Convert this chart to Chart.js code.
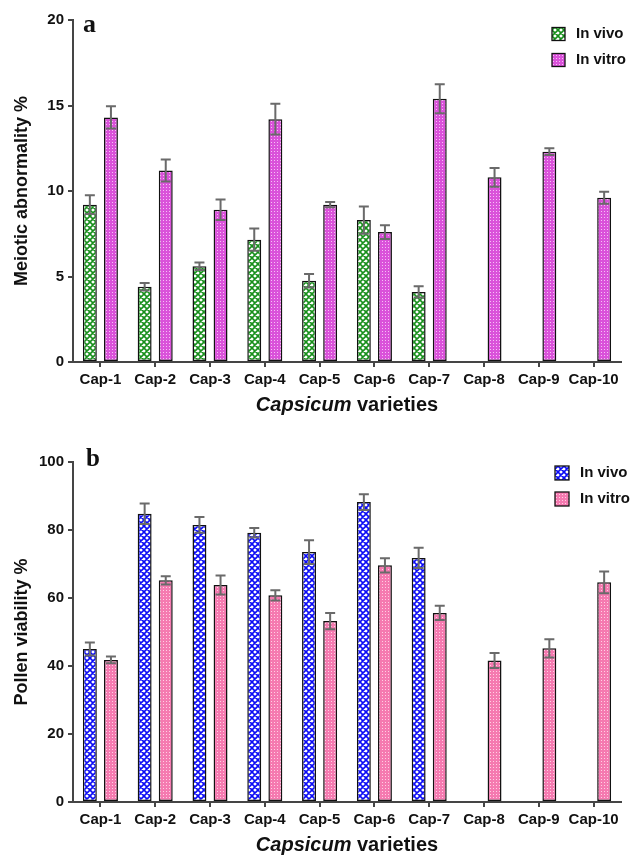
<!DOCTYPE html>
<html>
<head>
<meta charset="utf-8">
<script src="https://cdn.jsdelivr.net/npm/chart.js@4.4.0/dist/chart.umd.min.js"></script>
<style>
  body { margin: 0; background: #fff; }
  canvas { display: block; }
</style>
</head>
<body>
<canvas id="chartA" width="630" height="430"></canvas>
<canvas id="chartB" width="630" height="430"></canvas>
<script>
// data
var varieties = ['Cap-1', 'Cap-2', 'Cap-3', 'Cap-4', 'Cap-5', 'Cap-6', 'Cap-7', 'Cap-8', 'Cap-9', 'Cap-10'];

var meioticVivo = [9.2, 4.4, 5.6, 7.15, 4.75, 8.3, 4.1, null, null, null];
var meioticVivoErr = [0.55, 0.22, 0.22, 0.65, 0.4, 0.8, 0.33, 0, 0, 0];
var meioticVitro = [14.3, 11.2, 8.9, 14.2, 9.2, 7.6, 15.4, 10.8, 12.3, 9.6];
var meioticVitroErr = [0.65, 0.64, 0.6, 0.9, 0.15, 0.4, 0.85, 0.55, 0.2, 0.35];

var pollenVivo = [45, 84.8, 81.5, 79.2, 73.5, 88.2, 71.8, null, null, null];
var pollenVivoErr = [1.9, 3, 2.3, 1.4, 3.5, 2.3, 3, 0, 0, 0];
var pollenVitro = [41.8, 65.2, 63.8, 60.8, 53.2, 69.6, 55.6, 41.6, 45.2, 64.6];
var pollenVitroErr = [1, 1.2, 2.8, 1.5, 2.4, 2.1, 2.1, 2.2, 2.7, 3.2];

var meioticTicks = [0, 5, 10, 15, 20];
var pollenTicks = [0, 20, 40, 60, 80, 100];

var FONT = "'Liberation Sans', Arial, sans-serif";
var INK = '#111';
var AXIS = '#454545';

Chart.defaults.font.family = FONT;
Chart.defaults.color = INK;

// diagonal crosshatch on white, leaves diamond holes
function latticePattern(ink) {
    var n = 6;
    var c = document.createElement('canvas');
    c.width = n; c.height = n;
    var g = c.getContext('2d');
    g.fillStyle = '#fff';
    g.fillRect(0, 0, n, n);
    g.strokeStyle = ink;
    g.lineWidth = 1.6;
    g.beginPath();
    [-n, 0, n].forEach(function (k) {
        g.moveTo(-1, -1 + k); g.lineTo(n + 1, n + 1 + k);
        g.moveTo(-1, n + 1 + k); g.lineTo(n + 1, -1 + k);
    });
    g.stroke();
    return g.createPattern(c, 'repeat');
}

// sparse light dots on a flat ground
function dotPattern(ground, dot) {
    var c = document.createElement('canvas');
    c.width = 3; c.height = 3;
    var g = c.getContext('2d');
    g.fillStyle = ground; g.fillRect(0, 0, 3, 3);
    g.fillStyle = dot; g.fillRect(1, 1, 1, 1);
    return g.createPattern(c, 'repeat');
}

var errorBars = {
    id: 'errorBars',
    afterDatasetsDraw: function (chart) {
        var ctx = chart.ctx;
        var yScale = chart.scales.y;
        ctx.save();
        ctx.strokeStyle = '#6a6a6a';
        ctx.lineWidth = 2;
        chart.data.datasets.forEach(function (ds, d) {
            var meta = chart.getDatasetMeta(d);
            ds.data.forEach(function (v, i) {
                if (v == null) return;
                var e = ds.errors[i];
                var x = meta.data[i].x;
                var top = yScale.getPixelForValue(v + e);
                var bot = yScale.getPixelForValue(v - e);
                ctx.beginPath();
                ctx.moveTo(x, top); ctx.lineTo(x, bot);
                ctx.moveTo(x - 5, top); ctx.lineTo(x + 5, top);
                ctx.moveTo(x - 5, bot); ctx.lineTo(x + 5, bot);
                ctx.stroke();
            });
        });
        ctx.restore();
    }
};

var decorations = {
    id: 'decorations',
    afterDraw: function (chart, args, opts) {
        var ctx = chart.ctx;
        var area = chart.chartArea;
        ctx.save();
        ctx.fillStyle = INK;

        // panel letter
        ctx.font = "bold " + opts.letterSize + "px 'Liberation Serif', 'Times New Roman', serif";
        ctx.textAlign = 'left';
        ctx.textBaseline = 'alphabetic';
        ctx.fillText(opts.letter, opts.letterX, opts.letterY);

        // y title
        ctx.save();
        ctx.translate(22, (area.top + area.bottom) / 2);
        ctx.rotate(-Math.PI / 2);
        ctx.font = 'bold 18px ' + FONT;
        ctx.textAlign = 'center';
        ctx.textBaseline = 'middle';
        ctx.fillText(opts.yTitle, 0, 0);
        ctx.restore();

        // x title, genus in italics
        var cx = (area.left + area.right) / 2;
        var italicFont = 'italic bold 20px ' + FONT;
        var plainFont = 'bold 20px ' + FONT;
        ctx.font = italicFont;
        var w1 = ctx.measureText('Capsicum').width;
        ctx.font = plainFont;
        var w2 = ctx.measureText(' varieties').width;
        var x0 = cx - (w1 + w2) / 2;
        ctx.textAlign = 'left';
        ctx.textBaseline = 'middle';
        ctx.font = italicFont;
        ctx.fillText('Capsicum', x0, opts.xTitleY);
        ctx.font = plainFont;
        ctx.fillText(' varieties', x0 + w1, opts.xTitleY);

        // legend
        ctx.font = 'bold 15px ' + FONT;
        chart.data.datasets.forEach(function (ds, d) {
            var y = opts.legendY + d * 26;
            ctx.fillStyle = ds.backgroundColor;
            ctx.fillRect(opts.legendX, y - opts.box / 2, opts.box, opts.box);
            ctx.strokeStyle = INK;
            ctx.lineWidth = 1.3;
            ctx.strokeRect(opts.legendX, y - opts.box / 2, opts.box, opts.box);
            ctx.fillStyle = INK;
            ctx.fillText(ds.label, opts.legendX + opts.box + 11, y);
        });
        ctx.restore();
    }
};

function draw_panel(EleID, vivo, vivoErr, vitro, vitroErr, yTicks, vivoInk, vitroGround, vitroDot, layout) {
    var ctx = document.getElementById(EleID).getContext('2d');
    var config = {
        type: 'bar',
        data: {
            labels: varieties,
            datasets: [{
                label: 'In vivo',
                data: vivo,
                errors: vivoErr,
                backgroundColor: latticePattern(vivoInk),
                borderColor: INK,
                borderWidth: 1.5,
                borderSkipped: false,
                barPercentage: 0.66,
                categoryPercentage: 0.77
            }, {
                label: 'In vitro',
                data: vitro,
                errors: vitroErr,
                backgroundColor: dotPattern(vitroGround, vitroDot),
                borderColor: INK,
                borderWidth: 1.5,
                borderSkipped: false,
                barPercentage: 0.66,
                categoryPercentage: 0.77
            }]
        },
        options: {
            responsive: false,
            animation: false,
            layout: { padding: { top: layout.top, right: 9, left: 0, bottom: 0 } },
            plugins: {
                legend: { display: false },
                tooltip: { enabled: false },
                decorations: layout.deco
            },
            scales: {
                x: {
                    grid: { display: true, offset: false, drawOnChartArea: false, drawTicks: true, tickLength: 5, color: AXIS, lineWidth: 2 },
                    border: { display: true, color: AXIS, width: 2 },
                    ticks: { color: INK, font: { size: 15, weight: 'bold' }, padding: 4, maxRotation: 0, autoSkip: false },
                    afterFit: function (s) { s.height = layout.xHeight; }
                },
                y: {
                    min: yTicks[0],
                    max: yTicks[yTicks.length - 1],
                    afterBuildTicks: function (s) { s.ticks = yTicks.map(function (v) { return { value: v }; }); },
                    grid: { display: true, drawOnChartArea: false, drawTicks: true, tickLength: 5, color: AXIS, lineWidth: 2 },
                    border: { display: true, color: AXIS, width: 2 },
                    ticks: { color: INK, font: { size: 15, weight: 'bold' }, padding: 4 },
                    afterFit: function (s) { s.width = 73; }
                }
            }
        },
        plugins: [errorBars, decorations]
    };
    return new Chart(ctx, config);
}

draw_panel('chartA', meioticVivo, meioticVivoErr, meioticVitro, meioticVitroErr, meioticTicks,
    '#178f1b', '#da52da', '#f6c0f6', {
        top: 20, xHeight: 68,
        deco: { letter: 'a', letterSize: 26, letterX: 83, letterY: 32, yTitle: 'Meiotic abnormality %',
                xTitleY: 405, legendX: 552, legendY: 34, box: 13 }
    });

draw_panel('chartB', pollenVivo, pollenVivoErr, pollenVitro, pollenVitroErr, pollenTicks,
    '#0c0cf5', '#f57ab0', '#ffd0e4', {
        top: 32, xHeight: 58,
        deco: { letter: 'b', letterSize: 25, letterX: 86, letterY: 36, yTitle: 'Pollen viability %',
                xTitleY: 415, legendX: 555, legendY: 43, box: 14 }
    });
</script>
</body>
</html>
